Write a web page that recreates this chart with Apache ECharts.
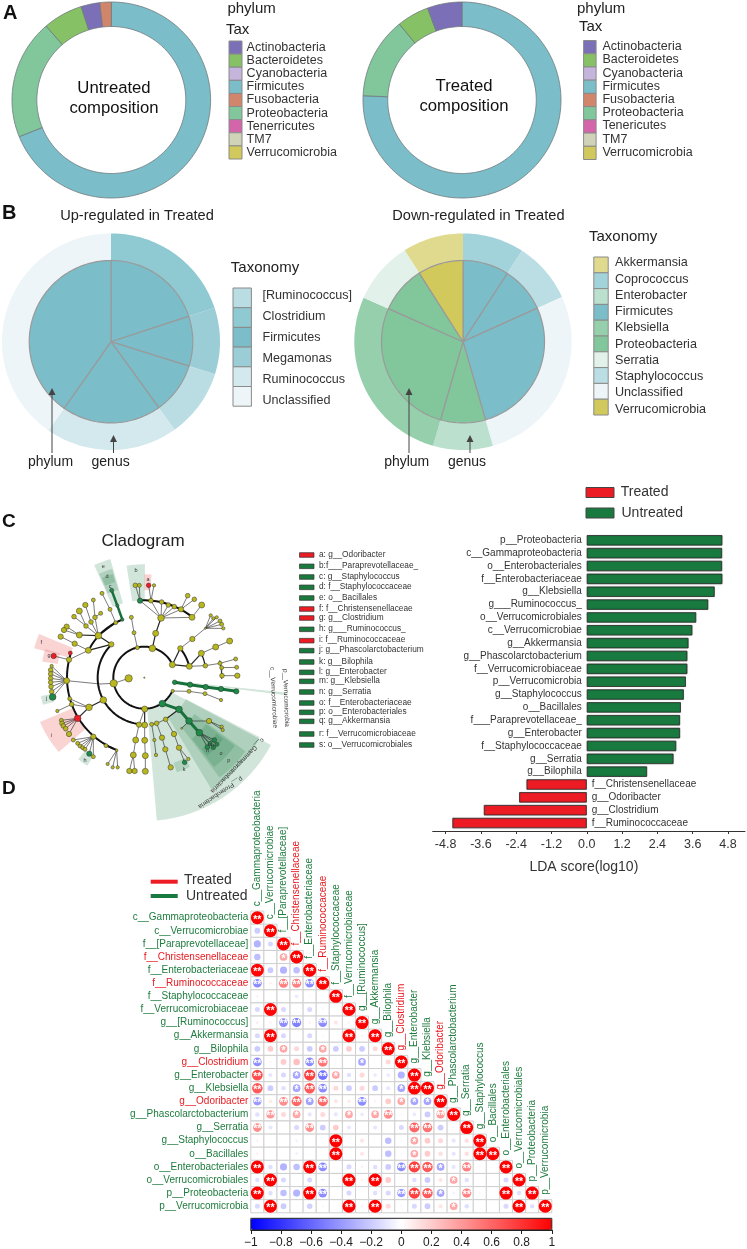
<!DOCTYPE html>
<html><head><meta charset="utf-8">
<style>html,body{margin:0;padding:0;background:#fff}#c{width:747px;height:1249px}</style>
<script src="https://cdn.jsdelivr.net/npm/echarts@6/dist/echarts.min.js"></script></head>
<body><div id="c"></div>
<script>
const FONT='"Liberation Sans",Arial,sans-serif';
const taxColor={Actinobacteria:'#7B6FB8',Bacteroidetes:'#86C166',Cyanobacteria:'#C5B5DC',Firmicutes:'#7BBDC9',Fusobacteria:'#D1866B',Proteobacteria:'#82C69B',Tenericutes:'#D565AB',Tenerricutes:'#D565AB',TM7:'#D0D3B8',Verrucomicrobia:'#D1C95B',
 Akkermansia:'#E0DA8F',Coprococcus:'#A3D3DA',Enterobacter:'#BCE0CE',Klebsiella:'#95CFAC',Serratia:'#E2F1EA',Staphylococcus:'#BBDEE5',Unclassified:'#EDF5F8','[Ruminococcus]':'#B9DDE3',Clostridium:'#8FC9D1',Megamonas:'#9ACDD6',Ruminococcus:'#D4E9ED'};
// Panel A
const legendTaxLeft=['Actinobacteria','Bacteroidetes','Cyanobacteria','Firmicutes','Fusobacteria','Proteobacteria','Tenerricutes','TM7','Verrucomicrobia'];
const legendTaxRight=['Actinobacteria','Bacteroidetes','Cyanobacteria','Firmicutes','Fusobacteria','Proteobacteria','Tenericutes','TM7','Verrucomicrobia'];
const untreatedTax=['Firmicutes','Proteobacteria','Bacteroidetes','Actinobacteria','Fusobacteria'];
const untreatedPct=[68.9,19.7,6.5,3.05,1.85];
const treatedTax=['Firmicutes','Proteobacteria','Bacteroidetes','Actinobacteria'];
const treatedPct=[75.7,13.4,5.25,5.65];
// Panel B (spans in degrees)
const upLegend=['[Ruminococcus]','Clostridium','Firmicutes','Megamonas','Ruminococcus','Unclassified'];
const upGenus=['Clostridium','Megamonas','[Ruminococcus]','Ruminococcus','Unclassified'];
const upPhylum=['Firmicutes','Firmicutes','Firmicutes','Firmicutes','Firmicutes'];
const upSpan=[71.8,35.7,36.8,70.7,145];
const downLegend=['Akkermansia','Coprococcus','Enterobacter','Firmicutes','Klebsiella','Proteobacteria','Serratia','Staphylococcus','Unclassified','Verrucomicrobia'];
const downGenus=['Coprococcus','Staphylococcus','Unclassified','Enterobacter','Klebsiella','Serratia','Akkermansia'];
const downPhylum=['Firmicutes','Firmicutes','Firmicutes','Proteobacteria','Proteobacteria','Proteobacteria','Verrucomicrobia'];
const downSpan=[32.9,32.7,98.4,32,98,33.6,32.4];
// Panel C LDA
const ldaNames=['p__Proteobacteria','c__Gammaproteobacteria','o__Enterobacteriales','f__Enterobacteriaceae','g__Klebsiella','g___Ruminococcus_','o__Verrucomicrobiales','c__Verrucomicrobiae','g__Akkermansia','g__Phascolarctobacterium','f__Verrucomicrobiaceae','p__Verrucomicrobia','g__Staphylococcus','o__Bacillales','f___Paraprevotellaceae_','g__Enterobacter','f__Staphylococcaceae','g__Serratia','g__Bilophila','f__Christensenellaceae','g__Odoribacter','g__Clostridium','f__Ruminococcaceae'];
const ldaValues=[4.61,4.60,4.60,4.61,4.35,4.13,3.72,3.59,3.46,3.42,3.42,3.37,3.30,3.20,3.17,3.17,3.04,2.95,2.05,-2.05,-2.30,-3.50,-4.57];
const ldaTicks=[-4.8,-3.6,-2.4,-1.2,0,1.2,2.4,3.6,4.8];
const cladeLegend=['a: g__Odoribacter','b:f___Paraprevotellaceae_','c: g__Staphylococcus','d: f__Staphylococcaceae','e: o__Bacillales','f: f__Christensenellaceae','g: g__Clostridium','h: g___Ruminococcus_','i: f__Ruminococcaceae','j: g__Phascolarctobacterium','k: g__Bilophila','l: g__Enterobacter','m: g__Klebsiella','n: g__Serratia','o: f__Enterobacteriaceae','p: o__Enterobacteriales','q: g__Akkermansia','r: f__Verrucomicrobiaceae','s: o__Verrucomicrobiales'];
const cladeLegendRed=[0,5,6,8];
const cladeLegendY=[135,169,201,232,264,297,324,358,392,422,456,487,514,546,579,607,634,672,705];
// clade: [id,x,y,r,class,parent,lineWidth]; y=yellow g=green r=red n=no dot
const cladeNodes=[
['root',433,503,2,'y'],
['P1',412,413,6,'y'],['a1',402,368,6,'y','P1'],['a2',394,322,6,'y','a1'],
['P2',457,415,10,'y'],['b1',467,370,9,'y','P2',1.2],['b2',483,324,10,'y','b1',1.2],
['t0',420,272,8,'g','b2'],['t1',453,272,7,'y','b2'],['t2',485,276,7,'y','b2'],['t3',505,285,7,'y','b2'],['t4',523,290,7,'y','b2'],['t5',543,298,8,'y','b2'],['t6',576,322,9,'y','b2'],
['t7',406,226,7,'y','t0'],['t8',418,226,6,'y','t0'],['t9',446,226,7,'r','t1'],['t10',462,226,5,'y','t1'],['t11',563,257,7,'y','t5'],['t12',583,268,7,'y','t5'],['t13',605,285,9,'y','t6'],
['P3',517,464,9,'y'],['c1',541,415,8,'y','P3',1.2],['c2',577,387,8,'y','c1'],['c3',616,355,3,'y','c2'],
['f1',632,316,5,'y','c3'],['f2',640,325,5,'y','c3'],['f3',650,322,5,'y','c3'],['f4',660,333,6,'y','c3'],['f5',665,343,6,'y','c3'],['f6',670,355,5,'y','c3'],
['c4',568,469,9,'y','P3',1.2],['c5',604,430,9,'y','c4',1.2],['c6',647,411,9,'y','c5'],['c7',689,393,9,'y','c6'],['c8',616,467,7,'y','c4'],['c9',660,460,6,'y','c8'],['c10',707,447,6,'y','c9'],['c11',665,473,6,'y','c9'],['c12',710,472,6,'y','c11'],['c13',666,497,7,'y','c11'],['c14',712,497,8,'y','c13'],
['V0',524,517,7,'g'],['V1',570,524,8,'g','V0',3],['V2',617,531,8,'g','V1',3],['V3',663,537,8,'g','V2',3],['V4',709,544,8,'g','V3',3],
['w1',518,543,5,'y'],['w2',567,544,6,'y','w1'],['w3',615,551,6,'y','w2'],['w4',663,570,5,'y','w3'],
['Pr',487,581,10,'g'],['Pr1',537,598,10,'g','Pr',3],['Pr2',567,633,10,'g','Pr1',3],['Pr3',598,668,10,'g','Pr2',3],
['x1',643,690,7,'g','Pr3'],['x2',651,703,6,'g','Pr3'],['x3',640,712,7,'g','Pr3'],['x4',622,711,7,'g','Pr3'],['x5',630,700,6,'g','Pr3'],
['x6',627,633,8,'y','Pr2'],['x7',665,650,5,'y','x6'],['x8',668,660,5,'y','x6'],['x9',545,655,3,'y','Pr2'],
['y1',497,628,7,'y','Pr1',1.2],['y2',470,640,7,'y','y1'],['y3',455,643,6,'y','y2'],['y4',486,683,8,'y','y2'],['y5',496,718,8,'y','y4'],['y6',512,772,8,'y','y5'],['y7',463,690,5,'y','y3'],['y8',468,735,5,'y','y7'],['y9',522,672,8,'y','y1'],['y10',537,713,8,'y','y9'],['y11',554,757,7,'g','y10'],['y12',565,747,5,'y','y10'],
['P4',434,597,9,'y'],['z1',434,645,9,'y','P4',1.2],['z2',434,691,9,'y','z1'],['z3',436,737,9,'y','z2'],['z4',436,784,9,'y','z3'],['z5',417,644,8,'y','P4'],['z6',407,690,9,'y','z5'],['z7',400,735,9,'y','z6'],['z8',388,783,8,'y','z7'],['z9',404,783,8,'y','z7'],
['F0',386,505,11,'y'],['F1',341,520,11,'y','F0'],['F2',300,522,0,'n','F1'],['F3',310,570,10,'y'],['F4',267,592,10,'y','F3',1.2],
['R',233,625,10,'r','F4',1.2],['R1',184,631,6,'y','R'],['R2',186,640,7,'y','R'],['R3',190,648,7,'y','R'],['R4',197,656,7,'y','R'],['R5',207,672,8,'y','R'],
['h1',215,583,7,'y','F4'],['h2',209,566,6,'y','F4'],['h3',172,603,5,'y','h1'],
['L',200,512,9,'y','F2'],['L1',152,480,7,'y','L'],['L2',152,492,7,'y','L'],['L3',152,505,7,'y','L'],['L4',152,517,7,'y','L'],['L5',153,530,7,'y','L'],['L6',155,545,7,'y','L'],['L7',155,468,5,'y','L'],['L8',158,561,10,'g','L'],
['U0',334,403,8,'y'],['U1',265,421,9,'y','U0',1.2],['U2',207,449,8,'y','U1'],['U3',211,429,6,'r','U2'],['U4',161,438,8,'r','U2'],['U5',224,401,8,'y','U1'],['U6',182,380,8,'y','U5'],
['U7',295,377,10,'y','U0',1.2],['U8',238,375,9,'y','U7',1.2],['U9',200,350,8,'y','U8'],['U10',192,360,8,'y','U8'],['U11',258,348,7,'y','U7'],['U12',238,303,9,'y','U11'],['U13',222,320,7,'y','U11'],['U14',273,336,7,'y','U7'],['U15',256,285,8,'y','U14'],['U16',285,322,7,'y','U7'],['U17',280,270,6,'y','U16'],['U18',302,310,6,'y','U16'],
['U19',347,338,6,'y','U7',1.2],['U20',330,298,6,'y','U19'],['U21',306,250,6,'y','U20'],['G1',367,329,5,'g','U19'],['G2',352,287,5,'g','G1',2.5],['G3',335,241,6,'g','G2',2.5],
['B0',280,680,8,'y'],['B1',220,690,6,'y','B0'],['B2',233,700,6,'y','B0'],['B3',240,708,6,'y','B0'],['B4',248,713,6,'y','B0'],['B5',255,718,6,'y','B0'],['B6',268,731,8,'g','B0'],['B7',280,740,6,'y','B0'],['B8',318,707,6,'y','B0'],['B9',350,721,4,'y','B8',1.2],['B10',323,762,5,'y','B9'],['B11',338,772,5,'y','B9'],['B12',353,772,5,'y','B9']
];
const cladeCenter=[433,503];
// [radius,theta0,theta1,lineWidth] clockwise from top
const cladeArcs=[[93,116,425,2],[140,187,316,2],[186,296,339,2],[232,357,398,2],[232,201,288,2],[139,51,76,2],[186,67,79,1.2],[232,77,91,.8]];
// [r0,r1,theta0,theta1,isRed]
const cladeSectors=[[93,430,118,175,0],[140,390,117.3,149,0],[186,375,126,143,0],[232,340,127,142,0],[275,300,128,141,0],[232,370,336,344,0],[275,340,336.5,343.5,0],[300,325,337,343,0],[232,340,351,360.3,0],[263,310,0,4,1],[232,342,285,292.5,1],[263,310,279,286,1],[232,340,229,247,1],[280,315,255,260,0],[280,315,213,219,0],[270,300,153,161,0],[93,430,96,97,0]];
const sectorLabels=[['e',310,168],['d',321,198],['c',330,228],['b',408,180],['a',444,208],['f',124,397],['g',147,437],['i',154,675],['j',140,566],['h',255,750],['k',552,777],['p',686,752],['o',663,730],['l',640,708],['m',631,703],['n',622,722]];
// Panel D
const corrNames=['c__Gammaproteobacteria','c__Verrucomicrobiae','f__[Paraprevotellaceae]','f__Christensenellaceae','f__Enterobacteriaceae','f__Ruminococcaceae','f__Staphylococcaceae','f__Verrucomicrobiaceae','g__[Ruminococcus]','g__Akkermansia','g__Bilophila','g__Clostridium','g__Enterobacter','g__Klebsiella','g__Odoribacter','g__Phascolarctobacterium','g__Serratia','g__Staphylococcus','o__Bacillales','o__Enterobacteriales','o__Verrucomicrobiales','p__Proteobacteria','p__Verrucomicrobia'];
const corrRed=['f__Christensenellaceae','f__Ruminococcaceae','g__Clostridium','g__Odoribacter'];
const corrRows=[
[1],
[-.2,1],
[-.3,-.15,1],
[-.25,.02,.35,1],
[.98,-.2,-.3,-.25,1],
[-.45,.05,.5,.5,-.45,1],
[.05,0,0,-.08,.03,.03,1],
[-.15,.98,-.15,.02,-.15,.03,0,1],
[.06,.05,-.45,-.5,.05,-.45,.1,.05,1],
[-.15,.98,-.15,.02,-.15,.03,0,.98,.05,1],
[-.2,.2,.35,.15,-.2,.35,-.2,.2,-.2,.15,1],
[-.45,-.03,.2,.25,-.45,.55,-.03,.02,-.35,-.02,.15,1],
[.7,-.1,-.15,-.35,.75,-.55,.35,-.12,.15,-.08,-.08,-.3,1],
[.65,-.2,-.12,-.35,.65,-.45,.15,-.2,.15,-.2,-.1,-.35,.98,1],
[-.4,.08,.45,.6,-.36,.6,.1,.08,-.45,.05,.2,.35,-.35,-.35,1],
[-.12,.4,.15,.35,-.1,.15,-.1,.35,-.08,.35,.45,.03,-.08,-.2,.4,1],
[.45,-.1,0,-.15,.45,-.2,.2,-.1,.02,-.1,0,-.15,.6,.55,-.2,0,1],
[.05,0,0,-.05,.02,.02,1,0,.1,0,-.25,-.03,.35,.2,.15,-.1,.12,1],
[.05,0,0,-.05,.02,.02,1,0,.1,0,-.25,-.03,.35,.2,.12,-.1,.12,1,1],
[1,-.12,-.3,-.25,1,-.45,.02,-.15,.05,-.12,-.2,-.45,.75,.65,-.35,-.1,.5,.03,.02,1],
[-.12,1,-.15,.02,-.15,.03,0,1,.05,1,.2,.02,-.12,-.2,.1,.35,-.12,0,0,-.15,1],
[1,-.12,-.25,-.3,1,-.45,.02,-.15,.02,-.12,-.15,-.4,.75,.65,-.35,-.05,.5,.03,.02,1,-.12,1],
[-.15,1,-.2,.02,-.18,.03,0,1,.05,1,.15,-.03,-.15,-.2,.1,.35,-.12,0,0,-.15,1,-.12,1]
];

const GREEN='#1A7A3E',RED='#ED1C24';
const grids=[],xAxes=[],yAxes=[],series=[],gfx=[];
function addGrid(g,x,y){grids.push(Object.assign({containLabel:false,show:false},g));const i=grids.length-1;
 xAxes.push(Object.assign({gridIndex:i,show:false,type:'value'},x));yAxes.push(Object.assign({gridIndex:i,show:false,type:'value'},y));return i;}
function unitGrid(cx,cy,rx,ry){return addGrid({left:cx-rx,top:cy-ry,width:2*rx,height:2*ry},{min:-1,max:1},{min:-1,max:1});}
function ringSeries(gi,tax,spans,r0,r1,stroke,sw){let a=0;const data=spans.map(s=>{const row=[a,a+s,r0,r1];a+=s;return row;});
 series.push({type:'custom',xAxisIndex:gi,yAxisIndex:gi,silent:true,clip:false,data,
  renderItem(p,api){const t0=api.value(0),t1=api.value(1),i0=api.value(2),o0=api.value(3),pts=[];
   const P=(r,t)=>api.coord([r*Math.sin(t*Math.PI/180),r*Math.cos(t*Math.PI/180)]);
   for(let t=t0;t<t1;t+=1.5)pts.push(P(o0,t));pts.push(P(o0,t1));
   if(i0===0)pts.push(P(0,0));else{for(let t=t1;t>t0;t-=1.5)pts.push(P(i0,t));pts.push(P(i0,t0));}
   return{type:'polygon',shape:{points:pts},style:{fill:taxColor[tax[p.dataIndex]],stroke:stroke,lineWidth:sw}};}});}
const pctToDeg=a=>a.map(v=>v*3.6);
function T(x,y,text,o={}){return{type:'text',x,y,z:50,scaleX:o.sx||1,rotation:o.rot||0,silent:true,style:{text,fill:o.c||'#222',fontFamily:FONT,fontSize:o.s||12,fontWeight:o.w||'normal',align:o.a||'left',verticalAlign:'middle'}};}
function R(x,y,w,h,fill,stroke,lw){return{type:'rect',z:50,silent:true,shape:{x,y,width:w,height:h},style:{fill,stroke:stroke||null,lineWidth:lw===undefined?1:lw}};}
function arrow(x,y0,y1){gfx.push({type:'line',z:50,silent:true,shape:{x1:x,y1:y0,x2:x,y2:y1+3},style:{stroke:'#444',lineWidth:1}});
 gfx.push({type:'polygon',z:50,silent:true,shape:{points:[[x,y1],[x-3.5,y1+7],[x+3.5,y1+7]]},style:{fill:'#444'}});}

// A
ringSeries(unitGrid(111.3,100,99.3,98),untreatedTax,pctToDeg(untreatedPct),.75,1,'#6f7a7c',.8);
ringSeries(unitGrid(462,100,99,98),treatedTax,pctToDeg(treatedPct),.75,1,'#6f7a7c',.8);
gfx.push(T(3,13,'A',{s:20,w:'bold',c:'#111'}));
gfx.push(T(114,88,'Untreated',{s:16.7,a:'center',c:'#111'}),T(114,108,'composition',{s:16.7,a:'center',c:'#111'}));
gfx.push(T(464,86,'Treated',{s:16.7,a:'center',c:'#111'}),T(464,106,'composition',{s:16.7,a:'center',c:'#111'}));
gfx.push(T(227.4,9,'phylum',{s:15}),T(226,30,'Tax',{s:15}),T(577,9,'phylum',{s:15}),T(579,27,'Tax',{s:15}));
legendTaxLeft.forEach((n,i)=>{const h=(159-41)/9,y=41+i*h;gfx.push(R(229,y,13,h,taxColor[n],'#8a8a8a'),T(246.6,y+h/2,n,{s:12.5,c:'#333'}));});
legendTaxRight.forEach((n,i)=>{const h=(159.5-40.5)/9,y=40.5+i*h;gfx.push(R(583.6,y,12.5,h,taxColor[n],'#8a8a8a'),T(602.4,y+h/2-.5,n,{s:12.5,c:'#333'}));});
// B
const gb1=unitGrid(111,341.7,109,108.3),gb2=unitGrid(463,341.7,108.7,108.3);
ringSeries(gb1,upGenus,upSpan,.75,1,'transparent',0);
ringSeries(gb1,upPhylum,upSpan,0,.75,'#9a9a9a',1.2);
ringSeries(gb2,downGenus,downSpan,.75,1,'transparent',0);
ringSeries(gb2,downPhylum,downSpan,0,.75,'#9a9a9a',1.2);
gfx.push(T(2,213,'B',{s:20,w:'bold',c:'#111'}));
gfx.push(T(137,216,'Up-regulated in Treated',{s:14.6,a:'center'}),T(478.4,216,'Down-regulated in Treated',{s:14.6,a:'center'}));
gfx.push(T(230.8,268,'Taxonomy',{s:15}),T(589,237,'Taxonomy',{s:15}));
upLegend.forEach((n,i)=>{const h=19.7,y=288+i*h;gfx.push(R(233,y,18.4,h,taxColor[n],'#8a8a8a'),T(262.5,296+i*21,n,{s:12.6,c:'#333'}));});
downLegend.forEach((n,i)=>{const h=15.8,y=257+i*h;gfx.push(R(593.8,y,14.4,h,taxColor[n],'#8a8a8a'),T(615,262.8+i*16.25,n,{s:12.6,c:'#333'}));});
arrow(52,453,388);arrow(113.5,453,435);arrow(409,453,388);arrow(470,453,435);
gfx.push(T(50.5,462,'phylum',{s:14,a:'center'}),T(110.6,462,'genus',{s:14,a:'center'}),T(406.7,462,'phylum',{s:14,a:'center'}),T(467,462,'genus',{s:14,a:'center'}));

// C cladogram (coordinates: 1/3 px units)
const gc=addGrid({left:0,top:510,width:440,height:320},{min:0,max:1320},{min:0,max:960,inverse:true});
const polar=(r,t)=>[cladeCenter[0]+r*Math.sin(t*Math.PI/180),cladeCenter[1]-r*Math.cos(t*Math.PI/180)];
series.push({type:'custom',xAxisIndex:gc,yAxisIndex:gc,silent:true,clip:false,z:1,data:cladeSectors,renderItem(p,api){
 const r0=api.value(0),r1=api.value(1),t0=api.value(2),t1=api.value(3),red=api.value(4),pts=[];
 for(let t=t0;t<=t1+.001;t+=(t1-t0)/16)pts.push(api.coord(polar(r1,t)));
 for(let t=t1;t>=t0-.001;t-=(t1-t0)/16)pts.push(api.coord(polar(r0,t)));
 return{type:'polygon',shape:{points:pts},style:{fill:red?'rgba(240,120,120,.33)':'rgba(30,125,70,.2)'}};}});
const nodeById={};cladeNodes.forEach(n=>nodeById[n[0]]=n);
const edgeRows=cladeNodes.filter(n=>n[5]).map(n=>{const p=nodeById[n[5]];return[n[1],n[2],p[1],p[2],n[6]||.6,n[4]==='g'&&(n[6]||0)>=2?1:0];});
series.push({type:'custom',xAxisIndex:gc,yAxisIndex:gc,silent:true,clip:false,z:2,data:edgeRows,renderItem(p,api){
 const a=api.coord([api.value(0),api.value(1)]),b=api.coord([api.value(2),api.value(3)]);
 return{type:'line',shape:{x1:a[0],y1:a[1],x2:b[0],y2:b[1]},style:{stroke:api.value(5)?'#17713A':'#222',lineWidth:api.value(4)}};}});
series.push({type:'custom',xAxisIndex:gc,yAxisIndex:gc,silent:true,clip:false,z:2,data:cladeArcs,renderItem(p,api){
 const r=api.value(0),t0=api.value(1),t1=api.value(2),pts=[];
 for(let t=t0;t<=t1;t+=2)pts.push(api.coord(polar(r,t)));
 return{type:'polyline',shape:{points:pts},style:{stroke:'#111',lineWidth:api.value(3),fill:null}};}});
const clsIdx={y:0,g:1,r:2};const clsColor=['#B8B81E','#1E8A48','#EE1C25'];
series.push({type:'scatter',xAxisIndex:gc,yAxisIndex:gc,silent:true,clip:false,z:3,
 data:cladeNodes.filter(n=>n[4]!=='n').map(n=>[n[1],n[2],n[3],clsIdx[n[4]]]),
 symbolSize:v=>v[2]*2/3,itemStyle:{color:p=>clsColor[p.data[3]],borderColor:'#333',borderWidth:.5,opacity:1}});
series.push({type:'custom',xAxisIndex:gc,yAxisIndex:gc,silent:true,clip:false,z:4,data:sectorLabels.map(s=>[s[1],s[2]]),renderItem(p,api){
 const c=api.coord([api.value(0),api.value(1)]);
 return{type:'text',x:c[0],y:c[1],style:{text:sectorLabels[p.dataIndex][0],fill:'#333',fontSize:5.5,fontFamily:FONT,align:'center',verticalAlign:'middle'}};}});
gfx.push(T(2,522,'C',{s:19,w:'bold',c:'#111'}),T(2,789,'D',{s:19,w:'bold',c:'#111'}));
gfx.push(T(143,541,'Cladogram',{s:17,a:'center',c:'#222'}));
cladeLegend.forEach((n,i)=>{const y=510+cladeLegendY[i]/3;gfx.push(R(299.5,y-2.3,14.5,4.6,cladeLegendRed.includes(i)?RED:GREEN,'#333',.7),T(319,y-.5,n,{s:8.3,c:'#333'}));});
const rot=d=>-d*Math.PI/180;
gfx.push(T(285,669,'p__Verrucomicrobia',{s:6.5,rot:rot(88),c:'#333'}),T(272,667,'c__Verrucomicrobiae',{s:6.5,rot:rot(87),c:'#333'}));
gfx.push(T(263,739,'c__Gammaproteobacteria',{s:6.4,rot:rot(134),c:'#333'}),T(242,778,'p__Proteobacteria',{s:6.4,rot:rot(146),c:'#333'}));

// C LDA
const gl=addGrid({left:432.7,top:533.9,width:312.3,height:295.6},
 {show:true,min:-5.24,max:5.38,offset:1.5,position:'bottom',splitLine:{show:false},
  axisLine:{show:true,onZero:false,lineStyle:{color:'#333',width:1}},
  axisTick:{show:true,length:3,inside:false,customValues:ldaTicks,lineStyle:{color:'#333'}},
  axisLabel:{show:true,customValues:ldaTicks,formatter:v=>v.toFixed(1),fontFamily:FONT,fontSize:12.5,color:'#333',margin:7},
  name:'LDA score(log10)',nameLocation:'middle',nameGap:29,nameTextStyle:{fontFamily:FONT,fontSize:14,color:'#333',padding:[0,10,0,0]}},
 {type:'category',data:ldaNames,inverse:true});
const ldaPos=ldaValues.map((v,i)=>v>0?v:null),ldaNeg=ldaValues.map(v=>v<0?v:null);
const barStyle=c=>({color:c,borderColor:'#2b2b2b',borderWidth:.8,shadowColor:'rgba(0,0,0,.25)',shadowBlur:1.5});
series.push({type:'bar',name:'Untreated',xAxisIndex:gl,yAxisIndex:gl,data:ldaPos,barWidth:10.4,barGap:'-100%',silent:true,itemStyle:barStyle('#187A3E'),
 label:{show:true,position:'left',distance:5,formatter:p=>p.name,fontFamily:FONT,fontSize:10,color:'#333'}});
series.push({type:'bar',name:'Treated',xAxisIndex:gl,yAxisIndex:gl,data:ldaNeg,barWidth:10.4,barGap:'-100%',silent:true,itemStyle:barStyle(RED),
 label:{show:true,position:'right',distance:5,formatter:p=>p.name,fontFamily:FONT,fontSize:10,color:'#333'}});
gfx.push(R(586,487.5,28,10,RED,'#444',1),T(620.7,492,'Treated',{s:14,c:'#333'}),R(586,508,28,10,'#187A3E','#444',1),T(621.5,513,'Untreated',{s:14,c:'#333'}));

// D
const gd=addGrid({left:250.8,top:911.1,width:301,height:301.7},
 {type:'category',data:corrNames,show:true,axisLine:{show:false},axisTick:{show:false},axisLabel:{show:false},splitLine:{show:false}},
 {type:'category',data:corrNames,inverse:true,show:true,axisLine:{show:false},axisTick:{show:false},splitLine:{show:false},
  axisLabel:{show:true,interval:0,margin:2.5,fontFamily:FONT,fontSize:10,color:v=>corrRed.includes(v)?'#E8191F':'#1E7B3E'}});
const corrData=[];corrRows.forEach((row,r)=>row.forEach((v,c)=>corrData.push([c,r,v])));
series.push({type:'custom',xAxisIndex:gd,yAxisIndex:gd,silent:true,z:1,data:corrData.map(d=>[d[0],d[1]]),renderItem(p,api){
 const c=api.coord([api.value(0),api.value(1)]),s=api.size([1,1]);
 return{type:'rect',shape:{x:c[0]-s[0]/2,y:c[1]-s[1]/2,width:s[0],height:s[1]},style:{fill:'#fff',stroke:'#CFCFCF',lineWidth:1}};}});
const corrIdx=series.length;
series.push({type:'scatter',xAxisIndex:gd,yAxisIndex:gd,silent:true,z:2,data:corrData,symbolSize:v=>Math.max(.5,13*Math.sqrt(Math.abs(v[2]))),
 itemStyle:{opacity:1},label:{show:true,position:'inside',color:'#fff',fontFamily:FONT,fontSize:10.5,fontWeight:'bold',offset:[0,2],
  formatter:p=>{const a=Math.abs(p.data[2]);return a>=.4?'**':a>=.33?'*':'';}}});
series.push({type:'custom',xAxisIndex:gd,yAxisIndex:gd,silent:true,clip:false,z:3,data:corrNames.map((n,i)=>[i,i]),renderItem(p,api){
 const c=api.coord([api.value(0),api.value(1)]),n=corrNames[p.dataIndex];
 return{type:'text',x:c[0],y:c[1]-11.5,rotation:Math.PI/2,style:{text:n,fill:corrRed.includes(n)?'#E8191F':'#1E7B3E',fontSize:10,fontFamily:FONT,align:'left',verticalAlign:'middle'}};}});
gfx.push({type:'line',z:50,silent:true,shape:{x1:150.7,y1:881.7,x2:177.7,y2:881.7},style:{stroke:RED,lineWidth:4}},
 {type:'line',z:50,silent:true,shape:{x1:150.7,y1:896,x2:177.7,y2:896},style:{stroke:'#187A3E',lineWidth:4}},
 T(184,880,'Treated',{s:14,c:'#333'}),T(186,896,'Untreated',{s:14,c:'#333'}));
// colour bar axis
addGrid({left:250.8,top:1218.3,width:301,height:11.7,show:true,borderColor:'#222',borderWidth:1,backgroundColor:'transparent',z:10},
 {show:true,min:-1,max:1,interval:.2,position:'bottom',z:10,splitLine:{show:false},axisLine:{show:true,lineStyle:{color:'#222'}},
  axisTick:{show:true,length:4,lineStyle:{color:'#222'}},axisLabel:{show:true,margin:7,fontFamily:FONT,fontSize:12,color:'#222',formatter:v=>String(+v.toFixed(1)).replace('-','\u2212')}},
 {min:0,max:1});

const chart=echarts.init(document.getElementById('c'),null,{renderer:'canvas',width:747,height:1249});
chart.setOption({animation:false,backgroundColor:'#fff',textStyle:{fontFamily:FONT},
 grid:grids,xAxis:xAxes,yAxis:yAxes,series,graphic:{elements:gfx},
 visualMap:{type:'continuous',seriesIndex:corrIdx,dimension:2,min:-1,max:1,orient:'horizontal',left:250.8,top:1218.3,padding:0,itemWidth:11.7,itemHeight:301,
  inRange:{color:['#0000FF','#FFFFFF','#FF0000']},calculable:false,showLabel:false,text:null,hoverLink:false,z:5}});
</script></body></html>
